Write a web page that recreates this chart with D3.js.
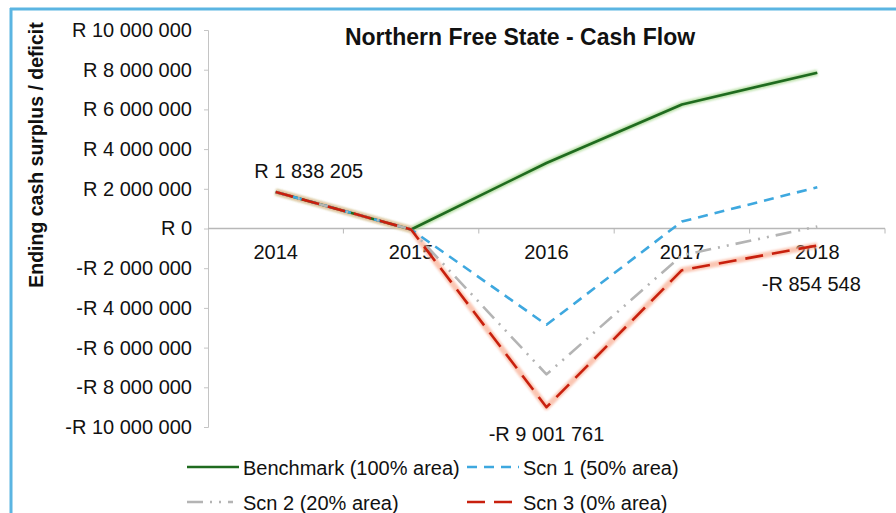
<!DOCTYPE html>
<html>
<head>
<meta charset="utf-8">
<script src="https://cdn.jsdelivr.net/npm/d3@7"></script>
<style>
  body { margin: 0; background: #fff; }
  svg { font-family: "Liberation Sans", Arial, sans-serif; }
</style>
</head>
<body>
<svg width="896" height="513"></svg>
<script>
// chart data
const years = ["2014", "2015", "2016", "2017", "2018"];
const benchmark = [1838205, -50000, 3300000, 6250000, 7850000];
const scn1 = [1838205, -50000, -4850000, 350000, 2080000];
const scn2 = [1838205, -50000, -7350000, -1350000, 100000];
const scn3 = [1838205, -50000, -9001761, -2100000, -854548];
const yTicks = [10000000, 8000000, 6000000, 4000000, 2000000, 0, -2000000, -4000000, -6000000, -8000000, -10000000];

const series = [
    { name: "Benchmark (100% area)", values: benchmark, color: "#1f6b1f", dash: null, glow: "#a6d88e" },
    { name: "Scn 1 (50% area)", values: scn1, color: "#3ea8df", dash: "10,7", glow: null },
    { name: "Scn 2 (20% area)", values: scn2, color: "#b4b4b4", dash: "16,7,2,7,2,7", glow: null },
    { name: "Scn 3 (0% area)", values: scn3, color: "#c8200e", dash: "18,9", glow: "#f9b39a" }
];

const svg = d3.select("svg");

// blue frame on left and top
svg.append("line").attr("x1", 11).attr("x2", 11).attr("y1", 8).attr("y2", 513)
    .style("stroke", "#5bb5e2").style("stroke-width", 3);
svg.append("line").attr("x1", 10).attr("x2", 896).attr("y1", 9).attr("y2", 9)
    .style("stroke", "#5bb5e2").style("stroke-width", 3);

const defs = svg.append("defs");
defs.append("filter").attr("id", "glow")
    .attr("x", "-10%").attr("y", "-10%").attr("width", "120%").attr("height", "120%")
    .append("feGaussianBlur").attr("stdDeviation", 1.2);

// scales
const x = d3.scaleBand().domain(years).range([208, 885]).padding(0);
const y = d3.scaleLinear().domain([-10000000, 10000000]).range([427, 30]);

const fmt = v => (v < 0 ? "-" : "") + "R " + d3.format(",")(Math.abs(v)).replace(/,/g, " ");

// y axis
const yAxis = svg.append("g")
    .attr("transform", "translate(208,0)")
    .call(d3.axisLeft(y).tickValues(yTicks).tickSize(4).tickPadding(12).tickFormat(fmt));
yAxis.select(".domain").style("stroke", "#c4c4c4");
yAxis.selectAll(".tick line").style("stroke", "#c4c4c4");
yAxis.selectAll("text")
    .style("font-size", "20px")
    .style("fill", "#111");

// x axis on zero line
const xg = svg.append("g");
xg.append("line")
    .attr("x1", x.range()[0]).attr("x2", x.range()[1])
    .attr("y1", y(0)).attr("y2", y(0))
    .style("stroke", "#b8b8b8").style("stroke-width", 1.3);
xg.selectAll(".xtick")
    .data(years.map(d => x(d)).concat([x.range()[1]]).slice(1))
    .join("line")
    .attr("x1", d => d).attr("x2", d => d)
    .attr("y1", y(0)).attr("y2", y(0) + 5)
    .style("stroke", "#b8b8b8");
xg.selectAll(".xlab")
    .data(years)
    .join("text")
    .attr("x", d => x(d) + x.bandwidth() / 2)
    .attr("y", y(0) + 30)
    .attr("text-anchor", "middle")
    .style("font-size", "20px")
    .style("fill", "#111")
    .text(d => d);

// lines
const line = d3.line()
    .x((d, i) => x(years[i]) + x.bandwidth() / 2)
    .y(d => y(d));

series.forEach(s => {
    if (s.glow) {
        svg.append("path")
            .attr("d", line(s.values))
            .attr("filter", "url(#glow)")
            .style("fill", "none")
            .style("stroke", s.glow)
            .style("stroke-width", 6)
            .style("stroke-linejoin", "round")
            .style("opacity", 0.75);
    }
});
// draw in order so red sits on top
series.forEach(s => {
    svg.append("path")
        .attr("d", line(s.values))
        .style("fill", "none")
        .style("stroke", s.color)
        .style("stroke-width", 2.6)
        .style("stroke-dasharray", s.dash)
        .style("stroke-linejoin", "round");
});

// data labels
const labels = [
    { text: fmt(scn3[0]), i: 0, v: scn3[0], dx: 33, dy: -14 },
    { text: fmt(scn3[2]), i: 2, v: scn3[2], dx: 0, dy: 34 },
    { text: fmt(scn3[4]), i: 4, v: scn3[4], dx: -6, dy: 46 }
];
svg.selectAll(".dlab")
    .data(labels)
    .join("text")
    .attr("x", d => x(years[d.i]) + x.bandwidth() / 2 + d.dx)
    .attr("y", d => y(d.v) + d.dy)
    .attr("text-anchor", "middle")
    .style("font-size", "20px")
    .style("fill", "#111")
    .text(d => d.text);

// title
svg.append("text")
    .attr("x", 520).attr("y", 45)
    .attr("text-anchor", "middle")
    .style("font-size", "23px")
    .style("font-weight", "bold")
    .style("fill", "#111")
    .text("Northern Free State - Cash Flow");

// y axis title
svg.append("text")
    .attr("transform", "translate(43,155) rotate(-90)")
    .attr("text-anchor", "middle")
    .style("font-size", "19.5px")
    .style("font-weight", "bold")
    .style("fill", "#111")
    .text("Ending cash surplus / deficit");

// legend
const legendPos = [[187, 467], [467, 467], [187, 502], [467, 502]];
const lg = svg.selectAll(".leg")
    .data(series)
    .join("g")
    .attr("transform", (d, i) => `translate(${legendPos[i][0]},${legendPos[i][1]})`);
lg.append("line")
    .attr("x1", 0).attr("x2", d => d.dash && d.dash.length > 6 ? 46 : 52).attr("y1", 0).attr("y2", 0)
    .style("stroke", d => d.color)
    .style("stroke-width", 2.6)
    .style("stroke-dasharray", d => d.dash);
lg.append("text")
    .attr("x", 56)
    .attr("y", 7.5)
    .style("font-size", "20px")
    .style("fill", "#111")
    .text(d => d.name);
</script>
</body>
</html>
